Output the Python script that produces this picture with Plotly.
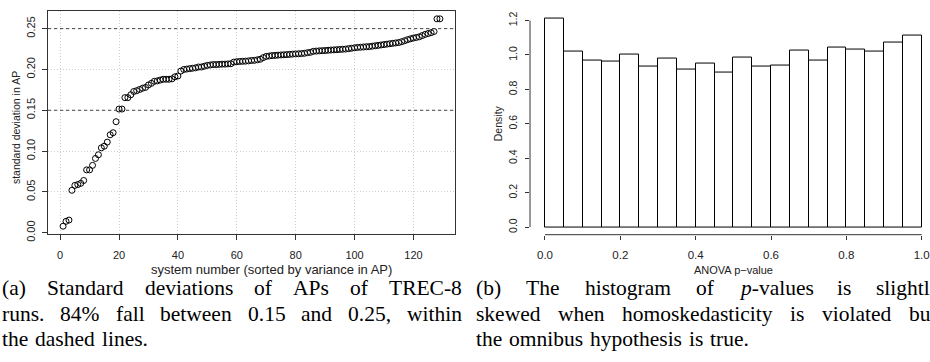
import re
import plotly.graph_objects as go

# ---------------- data ----------------
system_number = list(range(1, 130))
sd_ap = [
    0.008, 0.014, 0.0155, 0.052, 0.058, 0.059, 0.0605, 0.064, 0.077, 0.077,
    0.0825, 0.091, 0.0955, 0.104, 0.106, 0.111, 0.120, 0.1225, 0.136, 0.1515,
    0.1515, 0.1655, 0.1655, 0.169, 0.173, 0.174, 0.1755, 0.177, 0.178, 0.181,
    0.183, 0.1855, 0.186, 0.187, 0.188, 0.188, 0.188, 0.1885, 0.191, 0.192,
    0.198, 0.200, 0.2005, 0.201, 0.2015, 0.202, 0.203, 0.203, 0.204, 0.205,
    0.2055, 0.206, 0.206, 0.2062, 0.2065, 0.2065, 0.2068, 0.207,
    0.209, 0.2095, 0.2098, 0.210, 0.2102, 0.2105, 0.211, 0.2112,
    0.2118, 0.2125, 0.2145,
    0.216, 0.2165, 0.217, 0.2172, 0.2175, 0.2178, 0.218, 0.2182, 0.2185, 0.2188,
    0.219, 0.2192, 0.2195, 0.2198, 0.2205, 0.221,
    0.2222, 0.2225, 0.2228, 0.223, 0.2232, 0.2235, 0.2238, 0.224, 0.2242, 0.2245,
    0.2248, 0.225, 0.2255, 0.226, 0.2265, 0.227, 0.2272, 0.2275, 0.2278, 0.228,
    0.2285, 0.229, 0.2295, 0.230, 0.2305, 0.231, 0.2315, 0.232, 0.2325, 0.233,
    0.234, 0.2352, 0.2365, 0.2375, 0.2385,
    0.2392, 0.240, 0.2415, 0.243, 0.244, 0.245, 0.2465,
    0.262, 0.262,
]
band_limits = [0.15, 0.25]
sd_ticks = [0.00, 0.05, 0.10, 0.15, 0.20, 0.25]
sys_ticks = [0, 20, 40, 60, 80, 100, 120]

bin_edges = [i * 0.05 for i in range(21)]
density = [1.209, 1.018, 0.969, 0.960, 1.003, 0.931, 0.982, 0.918, 0.952, 0.897,
           0.986, 0.933, 0.941, 1.026, 0.969, 1.041, 1.032, 1.022, 1.073, 1.111]
p_ticks = [0.0, 0.2, 0.4, 0.6, 0.8, 1.0]
dens_ticks = [0.0, 0.2, 0.4, 0.6, 0.8, 1.0, 1.2]

caption_a = ["(a) Standard deviations of APs of TREC-8",
             "runs. 84% fall between 0.15 and 0.25, within",
             "the dashed lines."]
caption_b = ["(b) The histogram of <i>p</i>-values is slightl",
             "skewed when homoskedasticity is violated bu",
             "the omnibus hypothesis is true."]

# ---------------- figure ----------------
W, H = 930, 362
SANS = "Liberation Sans, Arial, sans-serif"
INK = "#333"


def sans(size):
    return dict(family=SANS, size=size, color="#222")


fig = go.Figure()

fig.add_trace(go.Scatter(
    x=system_number, y=sd_ap, mode="markers",
    marker=dict(symbol="circle-open", size=6, color="black", line=dict(width=1, color="black")),
    xaxis="x", yaxis="y", showlegend=False, cliponaxis=False,
))

centers = [(bin_edges[i] + bin_edges[i + 1]) / 2 for i in range(len(density))]
widths = [bin_edges[i + 1] - bin_edges[i] for i in range(len(density))]
fig.add_trace(go.Bar(
    x=centers, y=density, width=widths,
    marker=dict(color="white", line=dict(color="black", width=1)),
    xaxis="x2", yaxis="y2", showlegend=False,
))

xr1 = [-4.12, 134.12]
yr1 = [-0.0012, 0.2719]
xr2 = [-0.0398, 1.022]
yr2 = [-0.0437, 1.258]
GRID = dict(showgrid=True, gridcolor="#cfcfcf", griddash="1px,2px", gridwidth=1)

fig.update_layout(
    width=W, height=H, margin=dict(l=0, r=0, t=0, b=0),
    paper_bgcolor="white", plot_bgcolor="white",
    bargap=0,
    xaxis=dict(domain=[48 / W, 455 / W], range=xr1, tickvals=sys_ticks,
               ticktext=[str(v) for v in sys_ticks], ticks="outside", ticklen=5,
               tickcolor=INK, showline=True, mirror=True, linecolor=INK, linewidth=1,
               zeroline=False, tickfont=sans(11), ticklabelstandoff=6, **GRID),
    yaxis=dict(domain=[(H - 239) / H, (H - 11) / H], range=yr1, tickvals=sd_ticks,
               ticktext=[f"{v:.2f}" for v in sd_ticks], tickangle=-90, ticks="outside",
               ticklen=5, tickcolor=INK, showline=True, mirror=True, linecolor=INK,
               linewidth=1, zeroline=False, tickfont=sans(11), ticklabelstandoff=3, **GRID),
    xaxis2=dict(domain=[530 / W, 1.0], range=xr2, tickvals=p_ticks,
                ticktext=[f"{v:.1f}" for v in p_ticks], ticks="outside", ticklen=4,
                tickcolor=INK, showline=False, showgrid=False, zeroline=False,
                tickfont=sans(11.5), anchor="y2", ticklabelstandoff=6),
    yaxis2=dict(domain=[(H - 240) / H, (H - 10.8) / H], range=yr2, tickvals=dens_ticks,
                ticktext=[f"{v:.1f}" for v in dens_ticks], tickangle=-90, ticks="outside",
                ticklen=4, tickcolor=INK, showline=False, showgrid=False, zeroline=False,
                tickfont=sans(10.5), anchor="x2", ticklabelstandoff=4),
)

for v in band_limits:
    fig.add_shape(type="line", xref="x domain", yref="y", x0=0, x1=1, y0=v, y1=v,
                  line=dict(color="#444", width=1, dash="3px,3px"))


def dom(v, r):
    return (v - r[0]) / (r[1] - r[0])


fig.add_shape(type="line", xref="x2 domain", yref="y2 domain",
              x0=dom(p_ticks[0], xr2), x1=dom(p_ticks[-1], xr2), y0=0, y1=0,
              line=dict(color=INK, width=1))
fig.add_shape(type="line", xref="x2 domain", yref="y2 domain",
              x0=0, x1=0, y0=dom(dens_ticks[0], yr2), y1=dom(dens_ticks[-1], yr2),
              line=dict(color=INK, width=1))


def label(text, px, py, size, angle=0):
    fig.add_annotation(text=text, xref="paper", yref="paper", x=px / W, y=1 - py / H,
                       xanchor="center", yanchor="middle", textangle=angle,
                       showarrow=False, font=sans(size))


label("system number (sorted by variance in AP)", 271, 276, 13)
label("standard deviation in AP", 16, 131, 10.5, -90)
label("ANOVA p\u2212value", 733, 276, 11)
label("Density", 498, 126, 10.5, -90)

# ---------------- captions (justified, word by word) ----------------
TIMES = {" ": 250, "(": 333, ")": 333, ".": 250, ",": 250, "%": 833, "-": 333,
         "a": 444, "b": 500, "c": 444, "d": 500, "e": 444, "f": 333, "g": 500, "h": 500,
         "i": 278, "j": 278, "k": 500, "l": 278, "m": 778, "n": 500, "o": 500, "p": 500,
         "q": 500, "r": 333, "s": 389, "t": 278, "u": 500, "v": 500, "w": 722, "x": 500,
         "y": 500, "z": 444, "A": 722, "B": 667, "C": 667, "D": 722, "E": 611, "P": 556,
         "R": 667, "S": 556, "T": 611}
CAP_SIZE = 21.5
CAP_FONT = dict(family="Liberation Serif, Times New Roman, serif", size=CAP_SIZE, color="black")


def word_width(word):
    plain = re.sub(r"<[^>]+>", "", word)
    return sum(TIMES.get(ch, 500) for ch in plain) / 1000 * CAP_SIZE


def caption(lines, x_left, x_right, y_lines):
    for k, (line, yy) in enumerate(zip(lines, y_lines)):
        words = line.split(" ")
        ws = [word_width(w) for w in words]
        justify = k < len(lines) - 1
        if justify and len(words) > 1:
            gap = (x_right - x_left - sum(ws)) / (len(words) - 1)
        else:
            gap = 0.32 * CAP_SIZE
        x = x_left
        for w, wd in zip(words, ws):
            fig.add_annotation(text=w, xref="paper", yref="paper", x=(x - 2) / W,
                               y=1 - yy / H, xanchor="left", yanchor="middle",
                               showarrow=False, font=CAP_FONT)
            x += wd + gap


cap_rows = [295, 321, 347]
caption(caption_a, 2, 462, cap_rows)
caption(caption_b, 476, 930, cap_rows)

fig.write_html("out.html")
